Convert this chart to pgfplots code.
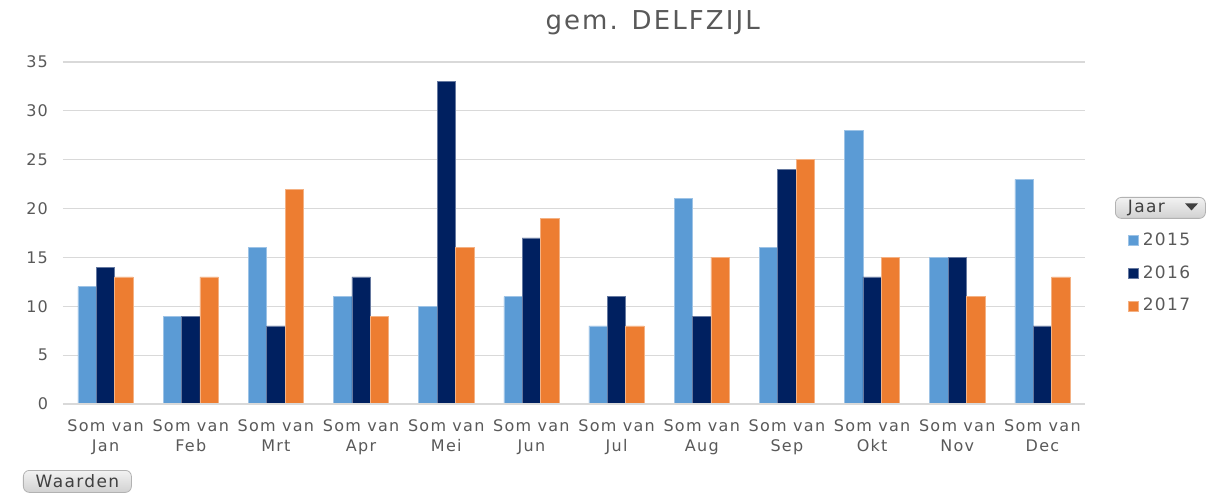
\documentclass[border=0pt]{standalone}
\usepackage{fontspec}
\setmainfont{DejaVu Sans}[LetterSpace=8]
\usepackage{pgfplots}
\pgfplotsset{compat=1.18}
\usepackage{pgfplotstable}

\definecolor{c2015}{HTML}{5B9BD5}
\definecolor{c2016}{HTML}{002060}
\definecolor{c2017}{HTML}{ED7D31}
\definecolor{txt}{HTML}{595959}
\definecolor{gridc}{HTML}{D9D9D9}

% maand, 2015, 2016, 2017
\pgfplotstableread{
x y2015 y2016 y2017
0 12 14 13
1 9 9 13
2 16 8 22
3 11 13 9
4 10 33 16
5 11 17 19
6 8 11 8
7 21 9 15
8 16 24 25
9 28 13 15
10 15 15 11
11 23 8 13
}\delfzijl

\begin{document}
\begin{tikzpicture}
\path[use as bounding box] (-31.5pt,-44pt) rectangle (572.5pt,202pt);
\begin{axis}[
    at={(0,0)}, anchor=south west,
    scale only axis,
    width=511pt, height=171pt,
    ybar=0pt, bar width=9.2pt,
    xmin=-0.5, xmax=11.5,
    ymin=0, ymax=35,
    ytick={0,5,...,35},
    xtick=data,
    xticklabels={{Som van\\Jan},{Som van\\Feb},{Som van\\Mrt},{Som van\\Apr},{Som van\\Mei},{Som van\\Jun},{Som van\\Jul},{Som van\\Aug},{Som van\\Sep},{Som van\\Okt},{Som van\\Nov},{Som van\\Dec}},
    xticklabel style={align=center, font=\fontsize{8}{10}\selectfont, text=txt, yshift=-4.5pt},
    yticklabel style={font=\fontsize{8}{10}\selectfont, text=txt, xshift=-4pt},
    /pgf/number format/assume math mode=true,
    major tick length=0pt,
    axis line style={draw=none},
    axis x line*=bottom,
    ymajorgrids, grid style={gridc, line width=0.6pt},
    title={gem. DELFZIJL},
    title style={font=\fontsize{13}{15}\selectfont, text=txt, at={(0.577,1)}, yshift=4pt},
    legend style={at={(1.036,0.525)}, anchor=north west, draw=none, fill=none,
        font=\fontsize{8.5}{10}\selectfont, text=txt, row sep=4.5pt,
        legend cell align=left, /tikz/every even column/.append style={column sep=2pt}},
    legend image code/.code={\fill[#1] (0pt,-2.5pt) rectangle (5pt,2.5pt);},
]
\addplot[fill=c2015, draw=c2015!60!white, line width=0.3pt] table[x=x, y=y2015] {\delfzijl};
\addplot[fill=c2016, draw=c2016!60!white, line width=0.3pt] table[x=x, y=y2016] {\delfzijl};
\addplot[fill=c2017, draw=c2017!60!white, line width=0.3pt] table[x=x, y=y2017] {\delfzijl};
\legend{2015,2016,2017}
\draw[gridc, line width=0.8pt] (rel axis cs:0,0) -- (rel axis cs:1,0);
\end{axis}
% Jaar button
\node[draw=black!30, rounded corners=3pt, top color=black!5, bottom color=black!18,
      minimum width=45pt, minimum height=10.5pt, inner sep=0pt, anchor=north west,
      font=\fontsize{8.5}{10}\selectfont, text=black!75] at (526pt,103.5pt)
      {\hspace*{-14pt}Jaar};
\fill[black!75] (561pt,100.3pt) -- (567.5pt,100.3pt) -- (564.25pt,96.8pt) -- cycle;
% Waarden button
\node[draw=black!30, rounded corners=3pt, top color=black!5, bottom color=black!18,
      minimum width=54pt, minimum height=11pt, inner sep=0pt, anchor=north west,
      font=\fontsize{8.5}{10}\selectfont, text=black!75] at (-20pt,-33pt)
      {Waarden};
\end{tikzpicture}
\end{document}
